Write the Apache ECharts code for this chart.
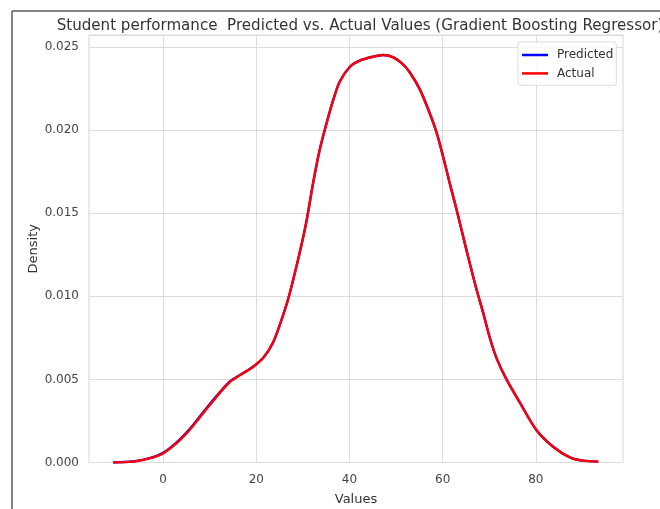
<!DOCTYPE html>
<html>
<head>
<meta charset="utf-8">
<script src="https://cdn.jsdelivr.net/npm/echarts@6/dist/echarts.min.js"></script>
<style>
  html, body { margin: 0; padding: 0; background: #fff; }
  #chart { width: 660px; height: 509px; }
</style>
</head>
<body>
<div id="chart"></div>
<script>
// KDE sample positions (score values) shared by both curves
const scoreValues = [
  -10.7, -6.4, -2.9, 0, 2.9, 5.7, 8.6, 11.5, 14.3, 17.2, 19.3, 21.5, 23.6,
  25.8, 27.2, 29.3, 30.8, 32.2, 33.6, 35.1, 36.5, 37.9, 40.1, 42.2, 45.1,
  47.2, 49.4, 51.5, 53.0, 55.1, 57.2, 58.7, 60.1, 61.5, 63.0, 64.4, 65.8,
  67.3, 68.7, 70.1, 71.6, 73.7, 76.6, 80.1, 83.7, 87.3, 90.1, 93.4
];

// Density of the actual scores
const actualDensity = [
  0.00000, 0.00005, 0.00025, 0.00055, 0.00116, 0.00196, 0.00296, 0.00396,
  0.00483, 0.00537, 0.00575, 0.00630, 0.00722, 0.00890, 0.01020, 0.01260,
  0.01456, 0.01682, 0.01880, 0.02043, 0.02180, 0.02291, 0.02381, 0.02418,
  0.02442, 0.02452, 0.02438, 0.02395, 0.02345, 0.02245, 0.02103, 0.01985,
  0.01840, 0.01682, 0.01520, 0.01359, 0.01200, 0.01038, 0.00900, 0.00752,
  0.00625, 0.00500, 0.00359, 0.00196, 0.00095, 0.00031, 0.00011, 0.00005
];

// Density of the model's predictions
const predictedDensity = [
  0.00000, 0.00006, 0.00026, 0.00058, 0.00121, 0.00202, 0.00302, 0.00401,
  0.00487, 0.00539, 0.00576, 0.00630, 0.00722, 0.00890, 0.01020, 0.01260,
  0.01456, 0.01682, 0.01880, 0.02043, 0.02180, 0.02291, 0.02381, 0.02418,
  0.02442, 0.02452, 0.02438, 0.02395, 0.02345, 0.02245, 0.02103, 0.01985,
  0.01840, 0.01682, 0.01520, 0.01359, 0.01200, 0.01038, 0.00900, 0.00752,
  0.00625, 0.00500, 0.00359, 0.00196, 0.00095, 0.00031, 0.00011, 0.00005
];

const xTickValues = [0, 20, 40, 60, 80];

const pairs = (xs, ys) => xs.map((x, i) => [x, ys[i]]);

const FONT = 'DejaVu Sans';
const chart = echarts.init(document.getElementById('chart'), null, { renderer: 'canvas' });

chart.setOption({
  animation: false,
  backgroundColor: '#ffffff',
  textStyle: { fontFamily: FONT },
  title: {
    text: 'Student performance  Predicted vs. Actual Values (Gradient Boosting Regressor)',
    left: 355,
    textAlign: 'center',
    top: 14,
    textStyle: { fontFamily: FONT, fontSize: 15.1, fontWeight: 'normal', color: '#333333' }
  },
  legend: {
    orient: 'vertical',
    left: 518,
    top: 42,
    padding: [7, 3, 6, 4],
    itemGap: 6.4,
    itemWidth: 26,
    itemHeight: 2.5,
    icon: 'rect',
    borderColor: '#dddddd',
    borderWidth: 1,
    borderRadius: 3,
    backgroundColor: 'rgba(255,255,255,0.8)',
    textStyle: { fontFamily: FONT, fontSize: 12, color: '#333333', padding: [0, 0, 0, 4] },
    data: ['Predicted', 'Actual']
  },
  grid: {
    left: 89, right: 37, top: 35, bottom: 46.5,
    outerBoundsMode: 'none',
    containLabel: false,
    show: true, borderColor: '#d6d6d6', borderWidth: 1
  },
  xAxis: {
    type: 'value',
    min: -15.9,
    max: 98.7,
    name: 'Values',
    nameLocation: 'middle',
    nameGap: 31,
    nameMoveOverlap: false,
    nameTextStyle: { fontFamily: FONT, fontSize: 13, color: '#333333' },
    axisLine: { show: false },
    axisTick: { show: false, customValues: xTickValues },
    axisLabel: { customValues: xTickValues, fontFamily: FONT, fontSize: 12, color: '#444444', margin: 11 },
    splitLine: { show: true, lineStyle: { color: '#dcdcdc', width: 1 } }
  },
  yAxis: {
    type: 'value',
    min: 0,
    max: 0.025722,
    interval: 0.005,
    name: 'Density',
    nameLocation: 'middle',
    nameGap: 49,
    nameMoveOverlap: false,
    nameTextStyle: { fontFamily: FONT, fontSize: 13, color: '#333333' },
    axisLine: { show: false },
    axisTick: { show: false },
    axisLabel: {
      fontFamily: FONT, fontSize: 12, color: '#444444', margin: 10,
      showMaxLabel: false,
      formatter: v => v.toFixed(3)
    },
    splitLine: { show: true, lineStyle: { color: '#dcdcdc', width: 1 } }
  },
  graphic: [
    { type: 'line', shape: { x1: 12, y1: 11, x2: 660, y2: 11 }, style: { stroke: '#5a5a5a', lineWidth: 1.5 }, z: 100 },
    { type: 'line', shape: { x1: 12, y1: 11, x2: 12, y2: 509 }, style: { stroke: '#5a5a5a', lineWidth: 1.5 }, z: 100 }
  ],
  series: [
    {
      name: 'Predicted',
      type: 'line',
      data: pairs(scoreValues, predictedDensity),
      smooth: 0.3,
      showSymbol: false,
      lineStyle: { color: '#0000ff', width: 2.4 },
      itemStyle: { color: '#0000ff' },
      z: 2
    },
    {
      name: 'Actual',
      type: 'line',
      data: pairs(scoreValues, actualDensity),
      smooth: 0.3,
      showSymbol: false,
      lineStyle: { color: '#ff0000', width: 2.4 },
      itemStyle: { color: '#ff0000' },
      z: 3
    }
  ]
});
</script>
</body>
</html>
